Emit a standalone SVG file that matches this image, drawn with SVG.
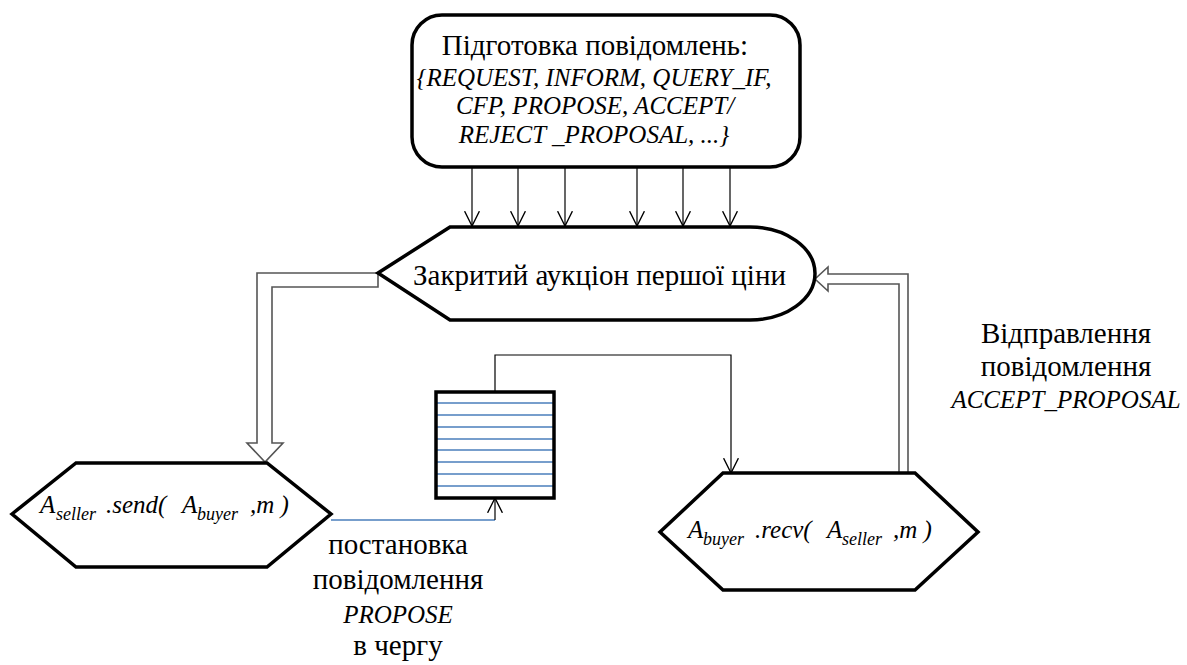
<svg xmlns="http://www.w3.org/2000/svg" width="1187" height="665" viewBox="0 0 1187 665">
<style>
text{font-family:'Liberation Serif','Times New Roman',serif;fill:#000}
.i{font-style:italic}
.node{fill:#fff;stroke:#000;stroke-width:3.5;stroke-linejoin:miter}
.thin{fill:none;stroke:#000;stroke-width:1.2}
.blue{fill:none;stroke:#4a7ebb;stroke-width:1.3}
.dbl{fill:#fff;stroke:#555;stroke-width:1.6;stroke-linejoin:miter}
</style>
<defs>
<marker id="v" markerUnits="userSpaceOnUse" markerWidth="16" markerHeight="16" viewBox="0 0 14 14" refX="13" refY="7" orient="auto">
<path d="M0,0.5 L13,7 L0,13.5" fill="none" stroke="#000" stroke-width="1.2"/>
</marker>
</defs>
<rect width="1187" height="665" fill="#fff"/>
<g id="connectors">
<line class="thin" x1="472" y1="167" x2="472" y2="226" marker-end="url(#v)"/>
<line class="thin" x1="518" y1="167" x2="518" y2="226" marker-end="url(#v)"/>
<line class="thin" x1="565" y1="167" x2="565" y2="226" marker-end="url(#v)"/>
<line class="thin" x1="637" y1="167" x2="637" y2="226" marker-end="url(#v)"/>
<line class="thin" x1="683" y1="167" x2="683" y2="226" marker-end="url(#v)"/>
<line class="thin" x1="730" y1="167" x2="730" y2="226" marker-end="url(#v)"/>
<path class="dbl" d="M378,273 L257,273 L257,443 L247,443 L265,462 L283,443 L272,443 L272,287 L378,287 Z"/>
<path class="dbl" d="M899,474 L899,284 L828,284 L828,291 L815,279 L828,267 L828,274 L908,274 L908,474 Z"/>
<polyline class="thin" points="495,392 495,355 731,355 731,473" marker-end="url(#v)"/>
<line class="blue" x1="331" y1="520" x2="495" y2="520"/>
<line class="thin" x1="495" y1="520" x2="495" y2="498" marker-end="url(#v)"/>
</g>
<g id="prep">
<rect class="node" x="412" y="15" width="388" height="152" rx="30" ry="30" stroke-width="3"/>
<text x="595" y="55" font-size="29" text-anchor="middle">Підготовка повідомлень:</text>
<text class="i" x="594" y="86" font-size="25" text-anchor="middle">{REQUEST, INFORM, QUERY_IF,</text>
<text class="i" x="595" y="114" font-size="25" text-anchor="middle">CFP, PROPOSE, ACCEPT/</text>
<text class="i" x="594" y="143" font-size="25" text-anchor="middle">REJECT _PROPOSAL, ...}</text>
</g>
<g id="auction">
<path class="node" d="M378,273 L450,227 L750,227 A65,46.5 0 0 1 750,320 L450,320 Z"/>
<text x="413" y="285" font-size="29">Закритий аукціон першої ціни</text>
</g>
<g id="send">
<polygon class="node" points="12,514 76,463 267,463 331,514 267,567 76,567"/>
<text class="i" y="513" font-size="25"><tspan x="40">A</tspan><tspan x="56" y="520" font-size="18">seller</tspan><tspan x="106" y="513">.send(</tspan><tspan x="182">A</tspan><tspan x="197" y="520" font-size="18">buyer</tspan><tspan x="250" y="513">,m )</tspan></text>
</g>
<g id="queue">
<rect x="436" y="392" width="118" height="106" fill="#fff"/>
<g class="blue">
<line x1="437" y1="403" x2="553" y2="403"/>
<line x1="437" y1="415" x2="553" y2="415"/>
<line x1="437" y1="427" x2="553" y2="427"/>
<line x1="437" y1="439" x2="553" y2="439"/>
<line x1="437" y1="450" x2="553" y2="450"/>
<line x1="437" y1="462" x2="553" y2="462"/>
<line x1="437" y1="474" x2="553" y2="474"/>
<line x1="437" y1="486" x2="553" y2="486"/>
</g>
<rect x="436" y="392" width="118" height="106" fill="none" stroke="#000" stroke-width="3.5"/>
</g>
<g id="recv">
<polygon class="node" points="660,532 723,473 915,473 978,532 915,590 723,590"/>
<text class="i" y="538" font-size="25"><tspan x="688">A</tspan><tspan x="703" y="545" font-size="18">buyer</tspan><tspan x="755" y="538">.recv(</tspan><tspan x="827">A</tspan><tspan x="842" y="545" font-size="18">seller</tspan><tspan x="893" y="538">,m )</tspan></text>
</g>
<g id="label-propose">
<text x="398" y="554" font-size="29" text-anchor="middle">постановка</text>
<text x="398" y="589" font-size="29" text-anchor="middle">повідомлення</text>
<text class="i" x="398" y="623" font-size="25" text-anchor="middle">PROPOSE</text>
<text x="398" y="655" font-size="29" text-anchor="middle">в чергу</text>
</g>
<g id="label-accept">
<text x="1066" y="343" font-size="29" text-anchor="middle">Відправлення</text>
<text x="1066" y="376" font-size="29" text-anchor="middle">повідомлення</text>
<text class="i" x="1066" y="408" font-size="25" text-anchor="middle">ACCEPT_PROPOSAL</text>
</g>
</svg>
